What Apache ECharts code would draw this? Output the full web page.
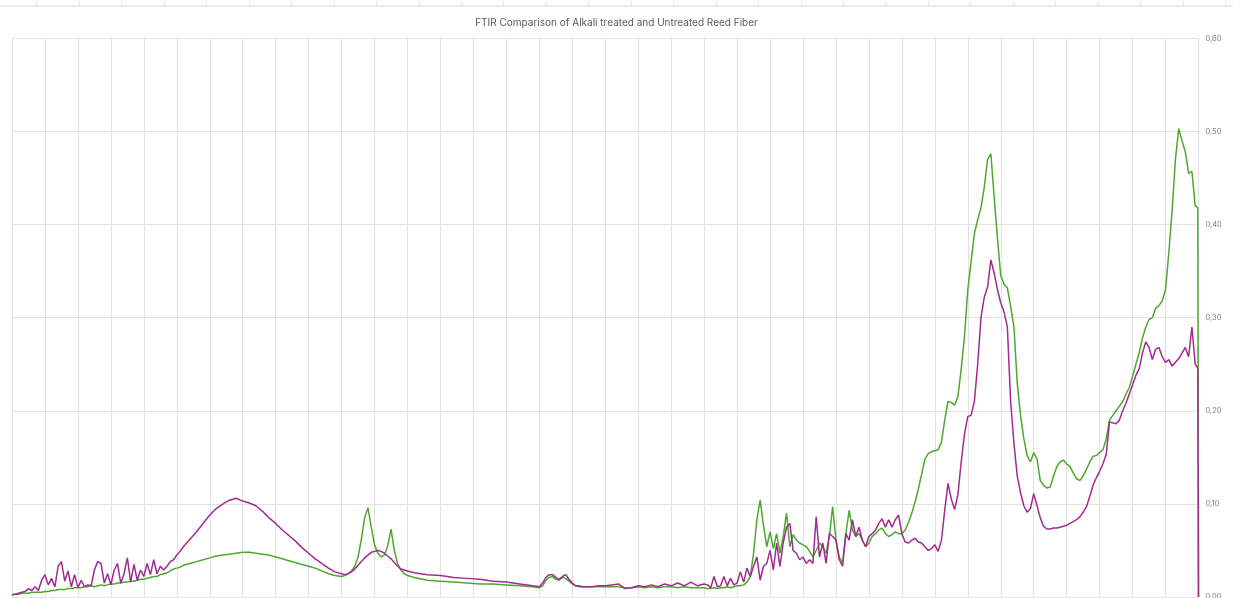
<!DOCTYPE html>
<html>
<head>
<meta charset="utf-8">
<title>FTIR Comparison of Alkali treated and Untreated Reed Fiber</title>
<script src="https://cdn.jsdelivr.net/npm/echarts@6/dist/echarts.min.js"></script>
<style>
  html, body { margin: 0; padding: 0; background: #ffffff; }
  #chart { width: 1233px; height: 598px; }
</style>
</head>
<body>
<div id="chart"></div>
<script>
// Wavenumbers (cm-1), sampled more densely where the spectra are noisy or peaked
const wavenumbers = [
  4000,3990,3980,3970,3960,3950,3940,3930,3920,3910,3900,3890,3880,3870,3860,3850,3840,3830,3820,3810,
  3800,3790,3780,3770,3760,3750,3740,3730,3720,3710,3700,3690,3680,3670,3660,3650,3640,3630,3620,3610,
  3600,3590,3580,3570,3560,3550,3540,3530,3520,3510,3500,3490,3480,
  3460,3440,3420,3400,3380,3360,3340,3320,3300,3280,3260,3240,3220,3200,3180,3160,3140,3120,3100,3080,
  3060,3040,3020,3000,
  2990,2980,2970,2960,2950,2940,2930,2920,2910,2900,2890,2880,2870,2860,2850,2840,2830,2820,2810,2800,
  2780,2740,2700,2660,2620,2580,2540,2500,2460,2420,
  2400,2390,2380,2370,2360,2350,2340,2330,2320,2310,2300,2290,2280,2270,2260,
  2240,2220,2200,2180,2160,2140,2120,2100,2080,2060,2040,2020,2000,1980,1960,1940,1920,1900,
  1890,1880,1870,1860,1850,1840,1830,1820,1810,1800,1790,1780,1770,1760,1750,1740,1730,1720,1710,1700,
  1690,1680,1670,1660,1650,1640,1630,1620,1610,1600,1590,1580,1570,1560,1550,1540,1530,1520,1510,1500,
  1490,1480,1470,1460,1450,1440,1430,1420,1410,1400,1390,1380,1370,1360,1350,1340,1330,1320,1310,1300,
  1290,1280,1270,1260,1250,1240,1230,1220,1210,1200,1190,1180,1170,1160,1150,
  1140,1130,1120,1110,1100,1090,1080,1070,1060,1050,1040,1030,1020,1010,1000,990,980,970,960,950,
  940,930,920,910,900,890,880,870,860,850,840,830,820,810,800,790,780,770,760,750,
  740,730,720,710,700,690,680,670,660,650,640,630,620,610,600,590,580,570,560,550,
  540,530,520,510,500,490,480,470,460,450,440,430,420,410,402,400
];

// Untreated reed fiber absorbance (green trace)
const untreated = [
  .003,.003,.003,.004,.004,.004,.005,.005,.005,.005,.006,.006,.007,.007,.008,.008,.008,.009,.009,.010,
  .010,.010,.011,.011,.012,.011,.012,.013,.012,.013,.014,.014,.015,.015,.016,.016,.017,.017,.018,.019,
  .019,.020,.021,.022,.022,.024,.025,.026,.028,.030,.031,.032,.034,
  .036,.038,.040,.042,.044,.045,.046,.047,.048,.048,.047,.046,.045,.043,.041,.039,.037,.035,.033,.031,
  .028,.025,.023,.022,
  .023,.025,.028,.033,.043,.062,.085,.096,.075,.056,.047,.043,.045,.055,.073,.050,.036,.029,.025,.023,
  .021,.018,.017,.016,.015,.014,.014,.013,.012,.011,
  .010,.012,.018,.021,.022,.019,.018,.021,.020,.017,.014,.012,.011,.011,.011,
  .011,.011,.011,.011,.011,.010,.010,.011,.010,.011,.010,.011,.011,.010,.011,.010,.010,.010,
  .009,.009,.010,.009,.010,.010,.011,.010,.011,.012,.012,.013,.016,.022,.047,.083,.104,.077,.054,.070,
  .052,.068,.047,.065,.090,.054,.067,.061,.058,.056,.054,.049,.043,.050,.058,.054,.047,.065,.097,.061,
  .043,.036,.068,.093,.072,.065,.068,.061,.054,.058,.065,.068,.072,.074,.068,.065,.067,.070,.068,.068,
  .072,.080,.090,.102,.116,.132,.148,.154,.156,.157,.158,.166,.190,.210,.209,
  .206,.215,.245,.280,.330,.360,.390,.405,.418,.440,.470,.476,.430,.385,.345,.336,.332,.312,.290,.230,
  .195,.170,.152,.145,.155,.148,.125,.120,.117,.118,.130,.140,.145,.147,.143,.140,.133,.127,.125,.130,
  .137,.145,.151,.152,.155,.158,.170,.190,.195,.200,.205,.210,.218,.225,.237,.250,.262,.278,.290,.298,
  .300,.310,.313,.318,.330,.370,.415,.470,.503,.490,.478,.455,.457,.420,.418,0
];

// Alkali treated reed fiber absorbance (purple trace)
const alkaliTreated = [
  .002,.003,.004,.005,.006,.009,.007,.011,.007,.018,.024,.013,.020,.011,.033,.038,.017,.028,.011,.024,
  .010,.018,.011,.013,.012,.029,.038,.036,.015,.025,.013,.029,.036,.015,.025,.042,.016,.035,.018,.029,
  .022,.036,.024,.040,.025,.033,.029,.033,.038,.040,.045,.049,.054,
  .062,.070,.079,.088,.095,.100,.104,.106,.103,.101,.098,.092,.085,.079,.072,.066,.060,.053,.047,.041,
  .036,.031,.027,.025,
  .024,.025,.027,.030,.034,.038,.042,.045,.048,.049,.050,.049,.047,.044,.041,.037,.033,.030,.029,.028,
  .026,.024,.023,.021,.020,.019,.017,.016,.014,.012,
  .011,.015,.021,.024,.024,.021,.019,.022,.024,.019,.015,.012,.012,.011,.011,
  .011,.012,.012,.013,.014,.009,.010,.012,.011,.013,.011,.014,.012,.015,.012,.016,.012,.014,
  .013,.010,.022,.011,.012,.022,.012,.020,.013,.015,.027,.016,.031,.022,.033,.043,.018,.033,.036,.050,
  .029,.058,.033,.058,.075,.079,.050,.047,.040,.043,.036,.040,.036,.086,.043,.058,.036,.068,.065,.061,
  .040,.033,.068,.061,.083,.065,.075,.061,.054,.065,.068,.072,.079,.084,.075,.083,.075,.083,.088,.068,
  .059,.058,.061,.063,.059,.058,.054,.050,.052,.056,.049,.061,.093,.122,.105,
  .094,.110,.145,.175,.194,.195,.210,.250,.300,.322,.333,.362,.348,.330,.316,.306,.290,.210,.165,.130,
  .112,.098,.091,.095,.111,.098,.085,.076,.073,.073,.074,.074,.075,.076,.077,.079,.081,.083,.086,.091,
  .097,.108,.120,.128,.135,.143,.153,.188,.187,.186,.190,.200,.208,.218,.228,.238,.245,.262,.274,.268,
  .255,.266,.268,.258,.252,.255,.248,.252,.256,.262,.268,.258,.290,.250,.246,0
];

// Y-axis tick values (absorbance)
const absorbanceTicks = [0, 0.1, 0.2, 0.3, 0.4, 0.5, 0.6];

if (wavenumbers.length !== untreated.length || wavenumbers.length !== alkaliTreated.length) {
  throw new Error('length mismatch: ' + wavenumbers.length + ' / ' + untreated.length + ' / ' + alkaliTreated.length);
}

const pairs = (vals) => wavenumbers.map((w, i) => [w, vals[i]]);
const decimalComma = (v) => v.toFixed(2).replace('.', ',');

const chart = echarts.init(document.getElementById('chart'), null, { renderer: 'canvas' });

const option = {
  animation: false,
  backgroundColor: '#ffffff',
  textStyle: { fontFamily: 'Inter, "Open Sans", sans-serif' },
  title: {
    text: 'FTIR Comparison of Alkali treated and Untreated Reed Fiber',
    left: 'center',
    top: 13,
    textStyle: { fontSize: 10, fontWeight: 'normal', color: '#595959', fontFamily: 'Inter, sans-serif' }
  },
  grid: [
    { left: 12, right: 34.5, top: 38.3, bottom: 1, containLabel: false, outerBoundsMode: 'none' },
    // thin ruler strip along the top edge
    { left: -5.75, width: 1273.5, top: 0, height: 6, containLabel: false, outerBoundsMode: 'none' }
  ],
  xAxis: [
    {
      gridIndex: 0, type: 'value', min: 400, max: 4000, interval: 100, inverse: true,
      axisLabel: { show: false }, axisTick: { show: false }, axisLine: { show: false },
      splitLine: { show: true, lineStyle: { color: '#e2e2e2', width: 1 } }
    },
    {
      gridIndex: 1, type: 'value', min: -1, max: 29, interval: 1,
      axisLabel: { show: false },
      axisTick: { show: true, inside: true, length: 5, lineStyle: { color: '#e6e6e6' } },
      axisLine: { show: true, lineStyle: { color: '#ededed', width: 2 } },
      splitLine: { show: false }
    }
  ],
  yAxis: [
    {
      gridIndex: 0, type: 'value', position: 'right',
      min: absorbanceTicks[0], max: absorbanceTicks[absorbanceTicks.length - 1], interval: 0.1,
      name: 'Absorbance', nameLocation: 'middle', nameRotate: 90, nameGap: 28,
      nameTextStyle: { fontSize: 7.5, color: '#7f7f7f' },
      axisLabel: { formatter: decimalComma, fontSize: 7.5, color: '#7f7f7f', margin: 7 },
      axisTick: { show: false }, axisLine: { show: false },
      splitLine: { show: true, lineStyle: { color: '#e2e2e2', width: 1 } }
    },
    { gridIndex: 1, type: 'value', show: false }
  ],
  series: [
    {
      name: 'Untreated',
      type: 'line', xAxisIndex: 0, yAxisIndex: 0,
      data: pairs(untreated),
      showSymbol: false, symbol: 'none', sampling: null,
      lineStyle: { color: '#4EA72E', width: 1.5 },
      itemStyle: { color: '#4EA72E' }
    },
    {
      name: 'Alkali treated',
      type: 'line', xAxisIndex: 0, yAxisIndex: 0,
      data: pairs(alkaliTreated),
      showSymbol: false, symbol: 'none', sampling: null,
      lineStyle: { color: '#A02B93', width: 1.5 },
      itemStyle: { color: '#A02B93' }
    }
  ]
};

chart.setOption(option);
</script>
</body>
</html>
